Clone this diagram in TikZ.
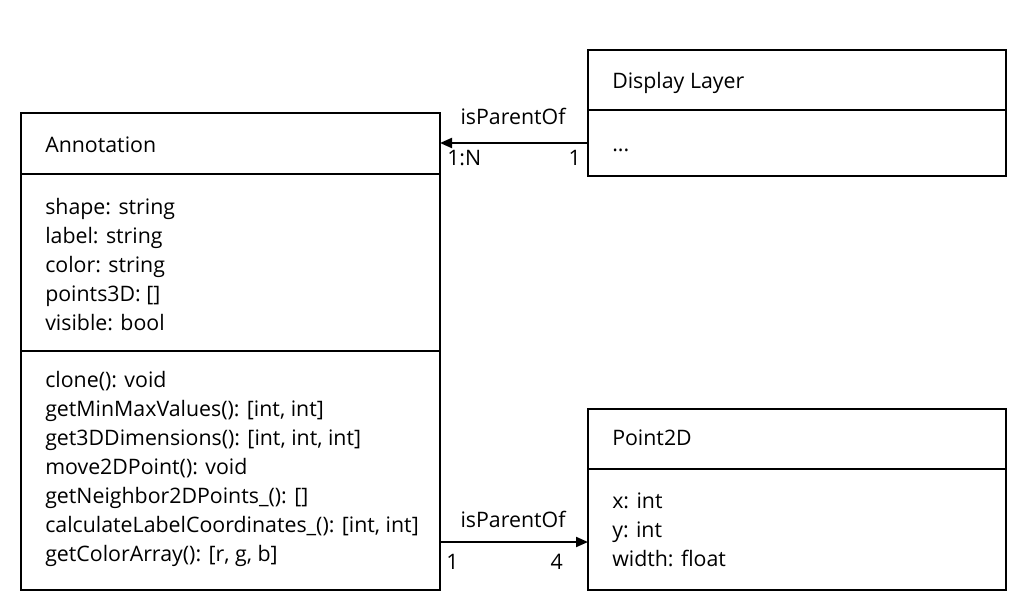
\documentclass[tikz,border=0pt]{standalone}
\usepackage{fontspec}
\setmainfont{Open Sans}
\usetikzlibrary{arrows.meta}
\begin{document}
\begin{tikzpicture}[x=0.75pt,y=-0.75pt,
  box/.style={draw=black,line width=1.5pt},
  txt/.style={anchor=base west,inner sep=0pt,font=\fontsize{16}{21.75}\selectfont},
  multi/.style={anchor=north west,inner sep=0pt,align=left,font=\fontsize{16}{21.75}\selectfont},
  rel/.style={line width=1.5pt,-{Triangle[length=9pt,width=7.5pt]}},
  lbl/.style={inner sep=0pt,font=\fontsize{16}{18}\selectfont}]
\useasboundingbox (0,0) rectangle (1026,611);
% Annotation
\draw[box] (21,113) rectangle (440,590);
\draw[box] (21,174) -- (440,174);
\draw[box] (21,351) -- (440,351);
\coordinate (annTop) at (440,143);
\coordinate (annBot) at (440,542);
\node[txt] (ann) at (45,152) {Annotation};
\node[multi] (annattr) at (45,198) {shape: string\\label: string\\color: string\\points3D: []\\visible: bool};
\node[multi] (annops) at (45,371) {clone(): void\\getMinMaxValues(): [int, int]\\get3DDimensions(): [int, int, int]\\move2DPoint(): void\\getNeighbor2DPoints\_(): []\\calculateLabelCoordinates\_(): [int, int]\\getColorArray(): [r, g, b]};
% Display Layer
\draw[box] (588,50) rectangle (1006,176);
\draw[box] (588,110) -- (1006,110);
\coordinate (dlLeft) at (588,143);
\node[txt] (dl) at (612,88) {Display Layer};
\node[txt] (dldots) at (612,151) {...};
% Point2D
\draw[box] (588,409) rectangle (1006,590);
\draw[box] (588,469) -- (1006,469);
\coordinate (ptLeft) at (588,542);
\node[txt] (pt) at (612,445) {Point2D};
\node[multi] (ptattr) at (612,493) {x: int\\y: int\\width: float};
% relations
\draw[rel] (dlLeft) -- (annTop);
\draw[rel] (annBot) -- (ptLeft);
\node[lbl] (l1) at (513,116) {isParentOf};
\node[lbl,anchor=west] (m1) at (447,158) {1:N};
\node[lbl,anchor=east] (m2) at (581,158) {1};
\node[lbl] (l2) at (513,519) {isParentOf};
\node[lbl,anchor=west] (m3) at (446,562) {1};
\node[lbl,anchor=east] (m4) at (563,562) {4};
\end{tikzpicture}
\end{document}
